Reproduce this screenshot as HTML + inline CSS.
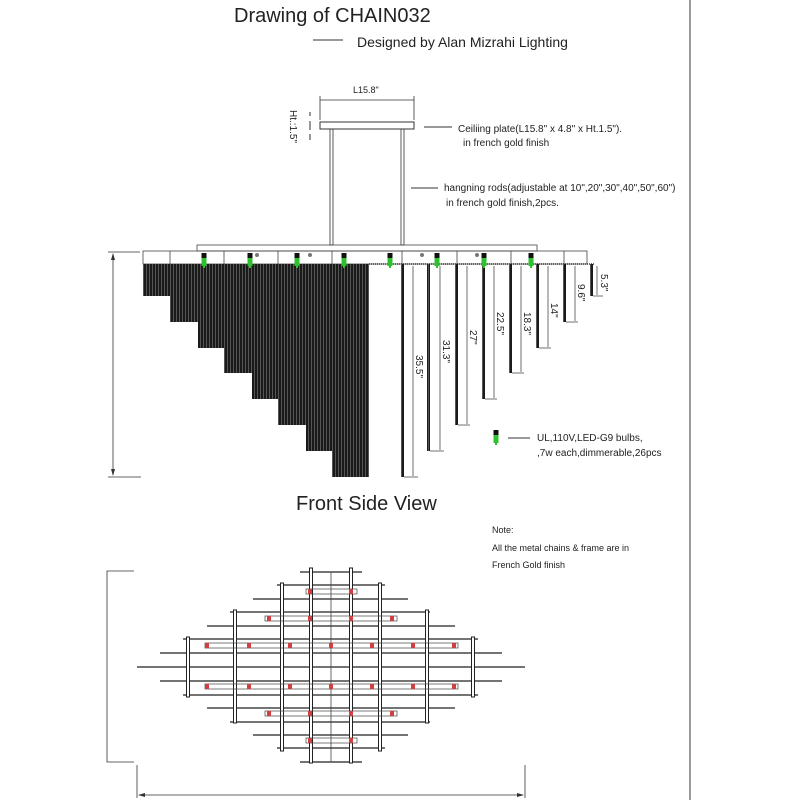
<!DOCTYPE html>
<html><head><style>
html,body{margin:0;padding:0;background:#fff;width:800px;height:800px;overflow:hidden}
svg{display:block}
text{font-family:"Liberation Sans",sans-serif;fill:#222}
</style></head><body>
<svg width="800" height="800" viewBox="0 0 800 800" xmlns="http://www.w3.org/2000/svg">
<defs>
<pattern id="grid" width="3" height="3" patternUnits="userSpaceOnUse">
<rect width="3" height="3" fill="#1a1a1a"/><rect x="2" width="1" height="3" fill="#555"/>
</pattern>
<g id="bulb"><rect x="-2.5" y="0" width="5" height="6" fill="#111"/><rect x="-2.5" y="5" width="5" height="8" fill="#2ec02e"/><rect x="-1" y="12" width="2" height="3" fill="#2ec02e"/></g>
</defs>
<line x1="690" y1="0" x2="690" y2="800" stroke="#333" stroke-width="1"/>
<text x="234" y="22" font-size="20">Drawing of CHAIN032</text>
<line x1="313" y1="40" x2="343" y2="40" stroke="#333"/>
<text x="357" y="47" font-size="14">Designed by Alan Mizrahi Lighting</text>
<!-- ceiling -->
<line x1="320" y1="100" x2="414" y2="100" stroke="#333" stroke-width="0.8"/>
<line x1="320" y1="96" x2="320" y2="120" stroke="#333" stroke-width="0.8"/>
<line x1="414" y1="96" x2="414" y2="120" stroke="#333" stroke-width="0.8"/>
<text x="353" y="93" font-size="9">L15.8"</text>
<rect x="320" y="122" width="94" height="7" fill="none" stroke="#333"/>
<line x1="310" y1="112" x2="310" y2="116" stroke="#333"/><line x1="310" y1="121" x2="310" y2="130" stroke="#333"/><line x1="310" y1="134" x2="310" y2="140" stroke="#333"/>
<text transform="translate(290,110) rotate(90)" font-size="10">Ht.:1.5"</text>
<rect x="330" y="129" width="3" height="116" fill="none" stroke="#333" stroke-width="0.8"/>
<rect x="401" y="129" width="3" height="116" fill="none" stroke="#333" stroke-width="0.8"/>
<line x1="424" y1="127" x2="452" y2="127" stroke="#333"/>
<text x="458" y="132" font-size="10">Ceiliing plate(L15.8" x 4.8" x Ht.1.5").</text>
<text x="463" y="146" font-size="10">in french gold finish</text>
<line x1="411" y1="188" x2="438" y2="188" stroke="#333"/>
<text x="444" y="191" font-size="10">hangning rods(adjustable at 10",20",30",40",50",60")</text>
<text x="446" y="206" font-size="10">in french gold finish,2pcs.</text>
<!-- frame -->
<rect x="197" y="245" width="340" height="6" fill="none" stroke="#444" stroke-width="0.8"/>
<rect x="143" y="251" width="444" height="13" fill="none" stroke="#444" stroke-width="0.8"/>
<g stroke="#444" stroke-width="0.8">
<line x1="170" y1="251" x2="170" y2="264"/><line x1="224" y1="251" x2="224" y2="264"/><line x1="278" y1="251" x2="278" y2="264"/><line x1="332" y1="251" x2="332" y2="264"/><line x1="402" y1="251" x2="402" y2="264"/><line x1="457" y1="251" x2="457" y2="264"/><line x1="511" y1="251" x2="511" y2="264"/><line x1="564" y1="251" x2="564" y2="264"/>
</g>
<circle cx="257" cy="255" r="2" fill="#777"/><circle cx="310" cy="255" r="2" fill="#777"/><circle cx="422" cy="255" r="2" fill="#777"/><circle cx="477" cy="255" r="2" fill="#777"/>
<!-- staircase -->
<path d="M143,264 H369 V477 H332 V451 H306 V425 H278 V399 H252 V373 H224 V348 H198 V322 H170 V296 H143 Z" fill="url(#grid)"/>
<line x1="369" y1="264" x2="595" y2="264" stroke="#333" stroke-width="1.5" stroke-dasharray="1,1"/>
<g fill="url(#grid)">
<rect x="401" y="264" width="3" height="213"/><rect x="427" y="264" width="3" height="187"/><rect x="455" y="264" width="3" height="161"/><rect x="482" y="264" width="3" height="135"/><rect x="509" y="264" width="3" height="109"/><rect x="536" y="264" width="3" height="84"/><rect x="563" y="264" width="3" height="58"/><rect x="590" y="264" width="3" height="32"/>
</g>
<g stroke="#333" stroke-width="0.7">
<line x1="413" y1="266" x2="413" y2="476"/><line x1="404" y1="477" x2="418" y2="477"/>
<line x1="440" y1="266" x2="440" y2="450"/><line x1="430" y1="451" x2="444" y2="451"/>
<line x1="467" y1="266" x2="467" y2="424"/><line x1="458" y1="425" x2="470" y2="425"/>
<line x1="494" y1="266" x2="494" y2="398"/><line x1="485" y1="399" x2="497" y2="399"/>
<line x1="521" y1="266" x2="521" y2="372"/><line x1="512" y1="373" x2="524" y2="373"/>
<line x1="548" y1="266" x2="548" y2="347"/><line x1="539" y1="348" x2="551" y2="348"/>
<line x1="575" y1="266" x2="575" y2="321"/><line x1="566" y1="322" x2="578" y2="322"/>
<line x1="597" y1="266" x2="597" y2="295"/><line x1="593" y1="296" x2="603" y2="296"/>
</g>
<g font-size="10">
<text transform="translate(416,355) rotate(90)">35.5"</text>
<text transform="translate(443,340) rotate(90)">31.3"</text>
<text transform="translate(470,330) rotate(90)">27"</text>
<text transform="translate(497,312) rotate(90)">22.5"</text>
<text transform="translate(524,312) rotate(90)">18.3"</text>
<text transform="translate(551,303) rotate(90)">14"</text>
<text transform="translate(578,284) rotate(90)">9.6"</text>
<text transform="translate(601,274) rotate(90)">5.3"</text>
</g>
<g>
<use href="#bulb" x="204" y="253"/><use href="#bulb" x="250" y="253"/><use href="#bulb" x="297" y="253"/><use href="#bulb" x="344" y="253"/><use href="#bulb" x="390" y="253"/><use href="#bulb" x="437" y="253"/><use href="#bulb" x="484" y="253"/><use href="#bulb" x="531" y="253"/>
<use href="#bulb" x="496" y="430"/>
</g>
<!-- left dim -->
<g stroke="#333" stroke-width="0.8">
<line x1="108" y1="252" x2="140" y2="252"/><line x1="108" y1="477" x2="141" y2="477"/>
<line x1="113" y1="254" x2="113" y2="475"/>
</g>
<path d="M113,253 l-2,7 h4z M113,476 l-2,-7 h4z" fill="#333"/>
<line x1="508" y1="438" x2="530" y2="438" stroke="#333"/>
<text x="537" y="441" font-size="10">UL,110V,LED-G9 bulbs,</text>
<text x="537" y="456" font-size="10">,7w each,dimmerable,26pcs</text>
<text x="296" y="510" font-size="20">Front Side View</text>
<text x="492" y="533" font-size="9">Note:</text>
<text x="492" y="551" font-size="9">All the metal chains &amp; frame are in</text>
<text x="492" y="568" font-size="9">French Gold finish</text>
<!-- bottom view -->
<g stroke="#333" stroke-width="0.8" fill="none">
<path d="M134,571 H107 V762 H134"/>
<line x1="137" y1="765" x2="137" y2="798"/><line x1="525" y1="765" x2="525" y2="798"/>
<line x1="139" y1="795" x2="523" y2="795"/>
</g>
<path d="M138,795 l7,-2 v4z M524,795 l-7,-2 v4z" fill="#333"/>
<g stroke="#222" stroke-width="1.3">
<line x1="300" y1="572" x2="362" y2="572"/><line x1="277" y1="585" x2="385" y2="585"/><line x1="253" y1="599" x2="408" y2="599"/><line x1="230" y1="612" x2="430" y2="612"/><line x1="207" y1="626" x2="455" y2="626"/><line x1="183" y1="639" x2="478" y2="639"/><line x1="160" y1="653" x2="502" y2="653"/><line x1="137" y1="667" x2="525" y2="667"/>
<line x1="160" y1="681" x2="502" y2="681"/><line x1="183" y1="695" x2="478" y2="695"/><line x1="207" y1="708" x2="455" y2="708"/><line x1="230" y1="722" x2="430" y2="722"/><line x1="253" y1="735" x2="408" y2="735"/><line x1="277" y1="748" x2="385" y2="748"/><line x1="300" y1="762" x2="362" y2="762"/>
</g>
<g fill="#fff" stroke="#222" stroke-width="1">
<rect x="309.5" y="568" width="3" height="195"/><rect x="349.5" y="568" width="3" height="195"/>
<rect x="280.5" y="583" width="3" height="168"/><rect x="378.5" y="583" width="3" height="168"/>
<rect x="233.5" y="610" width="3" height="113"/><rect x="425.5" y="610" width="3" height="113"/>
<rect x="186.5" y="637" width="3" height="60"/><rect x="471.5" y="637" width="3" height="60"/>
</g>
<line x1="331" y1="572" x2="331" y2="762" stroke="#444" stroke-width="0.8"/>
<g fill="none" stroke="#444" stroke-width="0.7">
<rect x="306" y="589" width="51" height="5"/><rect x="265" y="616" width="132" height="5"/><rect x="205" y="643" width="253" height="5"/>
<rect x="205" y="684" width="253" height="5"/><rect x="265" y="711" width="132" height="5"/><rect x="306" y="738" width="51" height="5"/>
</g>
<g fill="#d04040">
<rect x="308" y="589" width="4" height="5"/><rect x="349" y="589" width="4" height="5"/>
<rect x="267" y="616" width="4" height="5"/><rect x="308" y="616" width="4" height="5"/><rect x="349" y="616" width="4" height="5"/><rect x="390" y="616" width="4" height="5"/>
<rect x="205" y="643" width="4" height="5"/><rect x="247" y="643" width="4" height="5"/><rect x="288" y="643" width="4" height="5"/><rect x="329" y="643" width="4" height="5"/><rect x="370" y="643" width="4" height="5"/><rect x="411" y="643" width="4" height="5"/><rect x="452" y="643" width="4" height="5"/>
<rect x="205" y="684" width="4" height="5"/><rect x="247" y="684" width="4" height="5"/><rect x="288" y="684" width="4" height="5"/><rect x="329" y="684" width="4" height="5"/><rect x="370" y="684" width="4" height="5"/><rect x="411" y="684" width="4" height="5"/><rect x="452" y="684" width="4" height="5"/>
<rect x="267" y="711" width="4" height="5"/><rect x="308" y="711" width="4" height="5"/><rect x="349" y="711" width="4" height="5"/><rect x="390" y="711" width="4" height="5"/>
<rect x="308" y="738" width="4" height="5"/><rect x="349" y="738" width="4" height="5"/>
</g>
</svg>
</body></html>
